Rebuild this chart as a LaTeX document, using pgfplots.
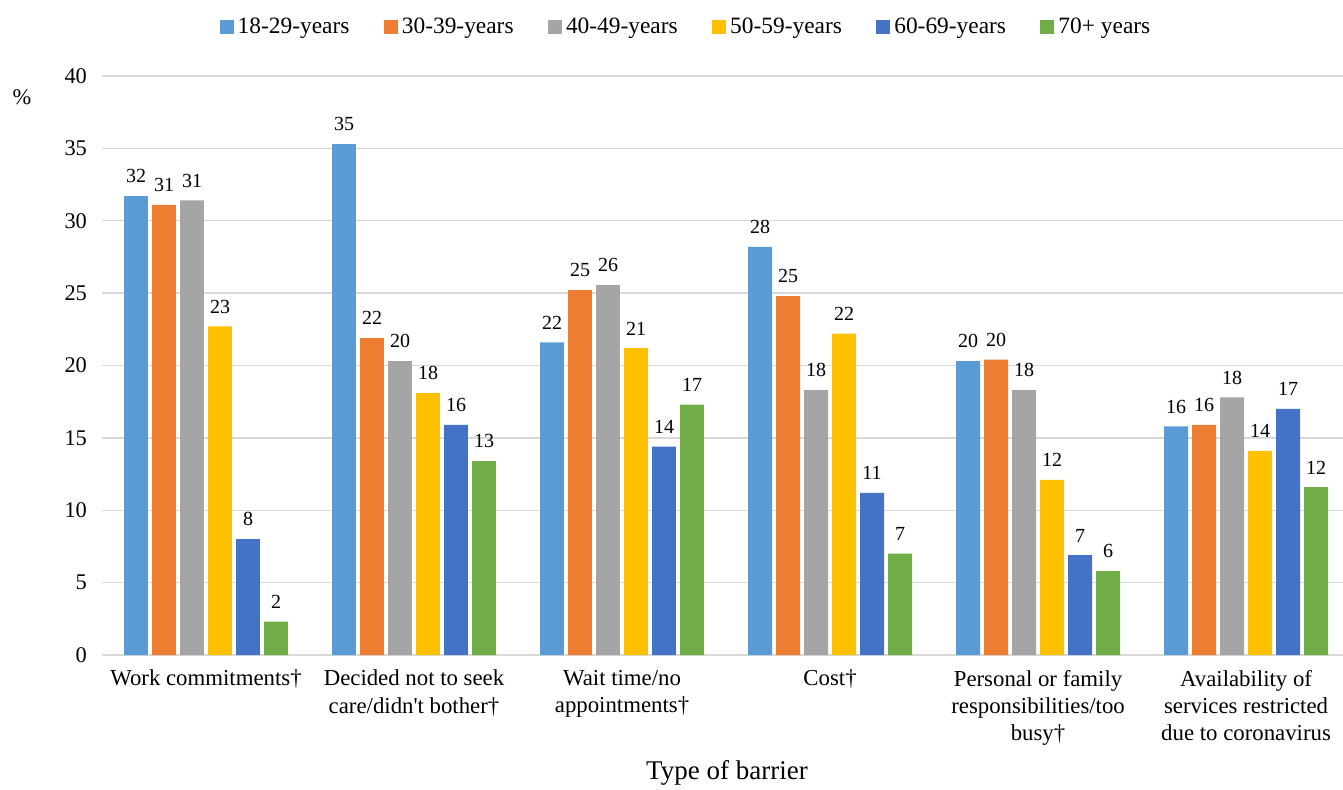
\documentclass[border=0pt]{standalone}
\usepackage{fontspec}
\setmainfont{Liberation Serif}[Ligatures=TeXOff]
\usepackage{pgfplots}
\pgfplotsset{compat=1.18}
\definecolor{cA}{HTML}{5B9BD5}
\definecolor{cB}{HTML}{ED7D31}
\definecolor{cC}{HTML}{A5A5A5}
\definecolor{cD}{HTML}{FFC000}
\definecolor{cE}{HTML}{4472C4}
\definecolor{cF}{HTML}{70AD47}
\definecolor{gridc}{HTML}{D9D9D9}
\begin{document}
\begin{tikzpicture}
\begin{axis}[
 at={(51pt,67pt)}, anchor=south west,
 scale only axis, width=620.5pt, height=289.5pt,
 ybar, bar width=0.115,
 xmin=-0.5, xmax=5.466, ymin=0, ymax=40,
 ytick={0,5,...,40},
 xtick={0,...,5},
 xticklabels={{Work commitments†},{Decided not to seek\\care/didn't bother†},{Wait time/no\\appointments†},{Cost†},{Personal or family\\responsibilities/too\\busy†},{Availability of\\services restricted\\due to coronavirus}},
 xticklabel style={align=center, font=\fontsize{11.4}{13.6}\selectfont, anchor=north, yshift=-4pt},
 yticklabel style={font=\fontsize{11.2}{13}\selectfont, xshift=-4pt},
 /pgf/number format/assume math mode=true,
 major tick length=0pt,
 axis line style={draw=none},
 ymajorgrids, grid style={draw=gridc, line width=0.7pt},
 clip=false,
 xlabel={Type of barrier},
 xlabel style={font=\fontsize{13.5}{15}\selectfont, at={(0.5036,0)}, anchor=center, yshift=-59pt},
 nodes near coords,
 nodes near coords style={font=\fontsize{10}{12}\selectfont, /pgf/number format/fixed, /pgf/number format/precision=0, yshift=3pt},
 legend style={draw=none, at={(0.4714,1)}, anchor=center, yshift=24.5pt, legend columns=-1, font=\fontsize{11.7}{13.5}\selectfont, /tikz/every even column/.append style={column sep=15.2pt}},
 legend image code/.code={\fill[#1] (0pt,-3.5pt) rectangle (7pt,3.5pt);},
 legend cell align=left,
]
\addplot[fill=cA, draw=none, bar shift=-0.3365] coordinates {(0,31.7) (1,35.3) (2,21.6) (3,28.2) (4,20.3) (5,15.8)};
\addplot[fill=cB, draw=none, bar shift=-0.2019] coordinates {(0,31.1) (1,21.9) (2,25.2) (3,24.8) (4,20.4) (5,15.9)};
\addplot[fill=cC, draw=none, bar shift=-0.0673] coordinates {(0,31.4) (1,20.3) (2,25.55) (3,18.3) (4,18.3) (5,17.8)};
\addplot[fill=cD, draw=none, bar shift=0.0673] coordinates {(0,22.7) (1,18.1) (2,21.2) (3,22.2) (4,12.1) (5,14.1)};
\addplot[fill=cE, draw=none, bar shift=0.2019] coordinates {(0,8.0) (1,15.9) (2,14.4) (3,11.2) (4,6.9) (5,17.0)};
\addplot[fill=cF, draw=none, bar shift=0.3365] coordinates {(0,2.3) (1,13.4) (2,17.3) (3,7.0) (4,5.8) (5,11.6)};
\legend{18-29-years,30-39-years,40-49-years,50-59-years,60-69-years,70+ years}
\node[font=\fontsize{11.2}{13}\selectfont] at (rel axis cs:0,1) [xshift=-40pt, yshift=-10.5pt] {\%};
\end{axis}
\pgfresetboundingbox
\useasboundingbox (0,0) rectangle (671.5pt,394.5pt);
\end{tikzpicture}
\end{document}
